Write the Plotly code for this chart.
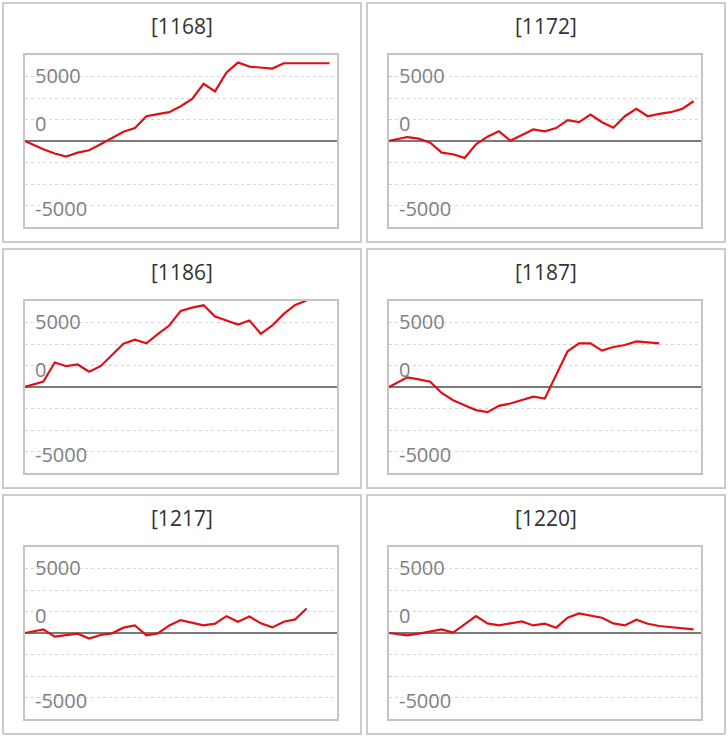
import plotly.graph_objects as go

# ---- data -------------------------------------------------------------
TITLES = ["[1168]", "[1172]", "[1186]", "[1187]", "[1217]", "[1220]"]

X_POS = [0, 1.6, 2.6, 3.6, 4.6, 5.6, 6.6, 7.6, 8.6, 9.6, 10.6, 11.6, 12.6, 13.6,
         14.6, 15.6, 16.6, 17.6, 18.6, 19.6, 20.6, 21.6, 22.6, 23.6, 24.6, 25.6, 26.6]

S1168 = [0, -960, -1460, -1800, -1350, -1080, -380, 380, 1080, 1500, 2880, 3120,
         3350, 4040, 4880, 6650, 5770, 7960, 9120, 8650, 8540, 8420, 9040, 9040,
         9040, 9040, 9040]
S1172 = [0, 460, 270, -190, -1350, -1540, -1960, -380, 500, 1120, 40, 650, 1350,
         1120, 1500, 2420, 2190, 3080, 2190, 1540, 2880, 3730, 2880, 3150, 3350,
         3730, 4620]
S1186 = [0, 620, 2850, 2420, 2620, 1770, 2420, 3770, 5040, 5500, 5080, 6150, 7150,
         8850, 9230, 9500, 8190, 7730, 7270, 7730, 6190, 7150, 8500, 9540, 10050]
S1187 = [0, 1120, 880, 620, -690, -1540, -2120, -2690, -2920, -2190, -1920, -1540,
         -1120, -1350, 1380, 4150, 5080, 5080, 4230, 4650, 4880, 5310, 5190, 5080]
S1217 = [0, 420, -420, -230, -80, -650, -230, -40, 620, 880, -270, -40, 880, 1500,
         1190, 880, 1080, 1960, 1310, 1920, 1120, 650, 1310, 1580, 2850]
S1220 = [0, -270, -80, 190, 420, 40, 1000, 1960, 1120, 880, 1120, 1350, 880, 1080,
         620, 1770, 2270, 2040, 1770, 1120, 880, 1540, 1080, 810, 690, 580, 420]

SERIES = [S1168, S1172, S1186, S1187, S1217, S1220]

LABEL_TEXT = ["5000", "0", "-5000"]
LABEL_AT = [7650, 2050, -7900]

# ---- layout geometry (pixels) ------------------------------------------
W, H = 728, 738
BOX_LEFT = [3, 367]
BOX_W = 358
BOX_TOP = [3, 249, 495]
BOX_H = 239
PLOT_DX, PLOT_W = 22, 312
PLOT_DY, PLOT_H = 52, 172


def px(x):
    return x / W


def py(y):
    return 1 - y / H


fig = go.Figure()
layout = dict(width=W, height=H, margin=dict(l=0, r=0, t=0, b=0),
              paper_bgcolor="white", plot_bgcolor="white", showlegend=False)
shapes, annotations = [], []

for i, (title, ys) in enumerate(zip(TITLES, SERIES)):
    r, c = divmod(i, 2)
    bl, bt = BOX_LEFT[c], BOX_TOP[r]
    pl, pt = bl + PLOT_DX, bt + PLOT_DY
    n = "" if i == 0 else str(i + 1)
    xa, ya = "x" + n, "y" + n

    fig.add_trace(go.Scatter(x=X_POS[:len(ys)], y=ys, mode="lines",
                             line=dict(color="#e00f16", width=2.2),
                             xaxis=xa, yaxis=ya, hoverinfo="skip"))

    layout["xaxis" + n] = dict(domain=[px(pl), px(pl + PLOT_W)], range=[0, 27.25],
                               anchor=ya, showgrid=False, zeroline=False,
                               showticklabels=False, ticks="", showline=True,
                               linecolor="#c4c4c4", linewidth=2, mirror=True,
                               fixedrange=True)
    layout["yaxis" + n] = dict(domain=[py(pt + PLOT_H), py(pt)], range=[-10000, 10000],
                               anchor=xa, tick0=0, dtick=2500, showgrid=True,
                               gridcolor="#d6d6d6", griddash="dot", gridwidth=1,
                               zeroline=True, zerolinecolor="#7a7a7a", zerolinewidth=2,
                               showticklabels=False, ticks="", showline=True,
                               linecolor="#c4c4c4", linewidth=2, mirror=True,
                               fixedrange=True)

    shapes.append(dict(type="rect", xref="paper", yref="paper",
                       x0=px(bl), x1=px(bl + BOX_W), y0=py(bt + BOX_H), y1=py(bt),
                       line=dict(color="#cccccc", width=2), fillcolor="rgba(0,0,0,0)",
                       layer="below"))
    annotations.append(dict(text=title, xref="paper", yref="paper",
                            x=px(bl + BOX_W / 2), y=py(bt + 23), xanchor="center",
                            yanchor="middle", showarrow=False,
                            font=dict(family="Open Sans", size=21, color="#333333")))
    for t, v in zip(LABEL_TEXT, LABEL_AT):
        annotations.append(dict(text=t, xref=xa + " domain", yref=ya, x=0.025, y=v,
                                xanchor="left", yanchor="middle", showarrow=False,
                                font=dict(family="Open Sans", size=20, color="#808080")))

layout["shapes"] = shapes
layout["annotations"] = annotations
fig.update_layout(**layout)
fig.write_html("out.html", config={"displayModeBar": False},
               post_script="document.body.style.margin='0';"
                           "document.body.style.overflow='hidden';")
